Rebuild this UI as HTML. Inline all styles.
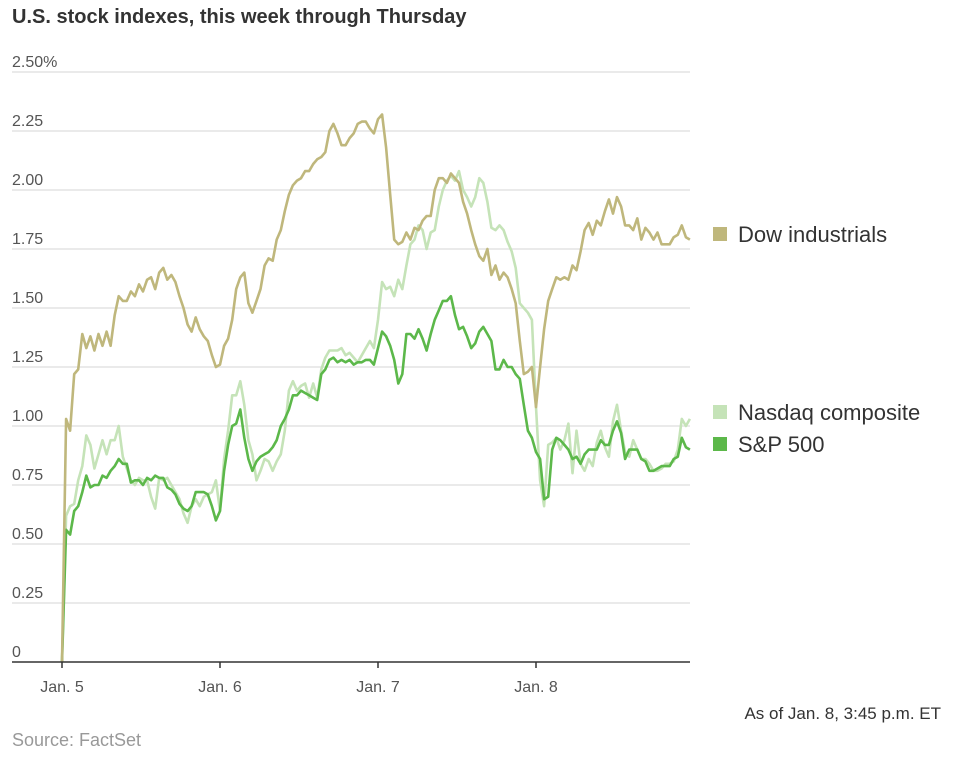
<!DOCTYPE html>
<html><head><meta charset="utf-8"><style>
body{margin:0;background:#fff;width:959px;height:768px;overflow:hidden;font-family:"Liberation Sans Narrow","Liberation Sans",sans-serif;}
svg{display:block}
</style></head><body>
<svg id="chart" width="959" height="768">
<text x="12" y="23" font-size="20" font-weight="bold" fill="#333">U.S. stock indexes, this week through Thursday</text>
<g id="grid"></g><g id="lines"></g><g id="xaxis"></g>
<g>
<rect x="713" y="227" width="14" height="14" fill="#bfb77c"/>
<text x="738" y="242" font-size="22" fill="#333" font-family="Liberation Sans, sans-serif">Dow industrials</text>
<rect x="713" y="405" width="14" height="14" fill="#c5e3b8"/>
<text x="738" y="420" font-size="22" fill="#333" font-family="Liberation Sans, sans-serif">Nasdaq composite</text>
<rect x="713" y="437" width="14" height="14" fill="#5cb84a"/>
<text x="738" y="452" font-size="22" fill="#333" font-family="Liberation Sans, sans-serif">S&amp;P 500</text>
</g>
<text x="941" y="719" font-size="17" fill="#333" text-anchor="end">As of Jan. 8, 3:45 p.m. ET</text>
<text x="12" y="746" font-size="18" fill="#999">Source: FactSet</text>
</svg>
<script>
const dayLabels=["Jan. 5","Jan. 6","Jan. 7","Jan. 8"];
const yTicks=[0,0.25,0.5,0.75,1,1.25,1.5,1.75,2,2.25,2.5];
const yTickLabels=["0","0.25","0.50","0.75","1.00","1.25","1.50","1.75","2.00","2.25","2.50%"];
const samplesPerDay=39;
const dow=[0,1.03,0.98,1.22,1.24,1.39,1.33,1.38,1.32,1.39,1.34,1.40,1.34,1.47,1.55,1.53,1.53,1.57,1.55,1.60,1.57,1.62,1.63,1.58,1.65,1.67,1.62,1.64,1.61,1.55,1.50,1.43,1.40,1.46,1.41,1.38,1.36,1.30,1.25,1.26,1.34,1.37,1.45,1.58,1.63,1.65,1.52,1.48,1.53,1.58,1.68,1.71,1.70,1.79,1.83,1.91,1.98,2.02,2.04,2.05,2.08,2.08,2.11,2.13,2.14,2.16,2.25,2.28,2.24,2.19,2.19,2.22,2.24,2.28,2.29,2.29,2.26,2.24,2.30,2.32,2.18,1.98,1.79,1.77,1.78,1.82,1.79,1.84,1.83,1.87,1.89,1.89,2.00,2.05,2.05,2.03,2.07,2.05,2.03,1.95,1.90,1.83,1.77,1.72,1.70,1.75,1.64,1.68,1.62,1.65,1.63,1.58,1.52,1.36,1.22,1.23,1.25,1.08,1.25,1.41,1.53,1.58,1.63,1.62,1.63,1.62,1.68,1.66,1.74,1.83,1.86,1.81,1.87,1.85,1.91,1.96,1.90,1.97,1.93,1.85,1.85,1.83,1.88,1.79,1.84,1.82,1.79,1.82,1.77,1.77,1.77,1.80,1.81,1.85,1.80,1.79];
const nasdaq=[0,0.62,0.66,0.67,0.77,0.83,0.96,0.92,0.82,0.88,0.94,0.88,0.94,0.94,1.00,0.87,0.82,0.77,0.75,0.78,0.77,0.77,0.70,0.65,0.78,0.77,0.78,0.75,0.72,0.69,0.63,0.59,0.66,0.69,0.66,0.70,0.71,0.72,0.77,0.64,0.86,0.98,1.13,1.13,1.19,1.09,0.94,0.88,0.77,0.81,0.86,0.85,0.81,0.85,0.88,0.98,1.15,1.19,1.15,1.17,1.18,1.12,1.18,1.12,1.24,1.29,1.32,1.32,1.32,1.33,1.30,1.31,1.29,1.27,1.30,1.33,1.36,1.33,1.45,1.61,1.58,1.59,1.55,1.62,1.58,1.68,1.77,1.79,1.85,1.83,1.75,1.82,1.83,1.93,2.00,2.04,2.06,2.04,2.08,2.00,1.97,1.93,1.97,2.05,2.03,1.95,1.84,1.83,1.85,1.83,1.78,1.74,1.67,1.52,1.50,1.48,1.45,1.08,0.77,0.66,0.92,0.93,0.95,0.90,0.94,1.01,0.80,0.98,0.84,0.81,0.86,0.83,0.93,0.98,0.91,0.87,1.02,1.09,0.98,0.89,0.87,0.94,0.90,0.86,0.86,0.84,0.81,0.81,0.82,0.84,0.84,0.85,0.90,1.03,1.00,1.03];
const sp500=[0,0.56,0.54,0.64,0.66,0.72,0.79,0.74,0.75,0.75,0.79,0.78,0.81,0.83,0.86,0.84,0.84,0.76,0.77,0.77,0.75,0.78,0.77,0.79,0.78,0.78,0.74,0.73,0.71,0.67,0.65,0.64,0.66,0.72,0.72,0.72,0.71,0.66,0.60,0.64,0.81,0.92,1.00,1.01,1.07,0.95,0.86,0.81,0.85,0.87,0.88,0.89,0.91,0.94,1.00,1.03,1.07,1.13,1.13,1.15,1.14,1.13,1.12,1.11,1.22,1.24,1.28,1.29,1.27,1.28,1.27,1.28,1.26,1.27,1.27,1.28,1.28,1.26,1.33,1.40,1.38,1.34,1.28,1.18,1.22,1.39,1.39,1.37,1.41,1.37,1.32,1.39,1.45,1.49,1.53,1.53,1.55,1.47,1.41,1.42,1.38,1.33,1.35,1.40,1.42,1.39,1.36,1.24,1.24,1.28,1.25,1.25,1.22,1.20,1.09,0.98,0.95,0.89,0.86,0.69,0.70,0.90,0.95,0.94,0.92,0.90,0.86,0.87,0.84,0.88,0.90,0.90,0.90,0.94,0.92,0.92,0.98,1.02,0.97,0.86,0.90,0.90,0.90,0.86,0.85,0.81,0.81,0.82,0.83,0.83,0.83,0.86,0.87,0.95,0.91,0.90];

const NS="http://www.w3.org/2000/svg";
const X0=62, DAYW=158, Y0=662, YSCALE=236, XL=12, XR=690;
function xs(d){return X0+d*DAYW;}
function ys(v){return Y0-v*YSCALE;}
function mk(tag,attrs,parent){const e=document.createElementNS(NS,tag);for(const k in attrs)e.setAttribute(k,attrs[k]);parent.appendChild(e);return e;}
const grid=document.getElementById('grid');
yTicks.forEach((v,i)=>{
  if(v>0){const l=mk('line',{x1:XL,x2:XR,y1:ys(v),y2:ys(v),stroke:'#e3e3e3','stroke-width':1.5},grid);
  
  }
  const t=mk('text',{x:XL,y:ys(v)-5,'font-size':16,fill:'#555'},grid);
  t.textContent=yTickLabels[i];
  
  
});
const xa=document.getElementById('xaxis');
const ax=mk('line',{x1:XL,x2:XR,y1:Y0,y2:Y0,stroke:'#333','stroke-width':1.5},xa);


dayLabels.forEach((d,i)=>{
  const tk=mk('line',{x1:xs(i),x2:xs(i),y1:Y0,y2:Y0+6,stroke:'#333','stroke-width':1.5},xa);
  
  
  const t=mk('text',{x:xs(i),y:Y0+30,'font-size':16,fill:'#555','text-anchor':'middle'},xa);
  t.textContent=d;
  
  
});
const lines=document.getElementById('lines');
function draw(arr,color,name){
  const pts=arr.map((v,i)=>xs(i/samplesPerDay).toFixed(1)+','+ys(v).toFixed(1)).join(' ');
  const p=mk('polyline',{points:pts,fill:'none',stroke:color,'stroke-width':2.6,'stroke-linejoin':'round'},lines);
  
  
}
draw(nasdaq,'#c5e3b8','nasdaq-line');
draw(sp500,'#5cb84a','sp500-line');
draw(dow,'#bfb77c','dow-line');
</script>
</body></html>
